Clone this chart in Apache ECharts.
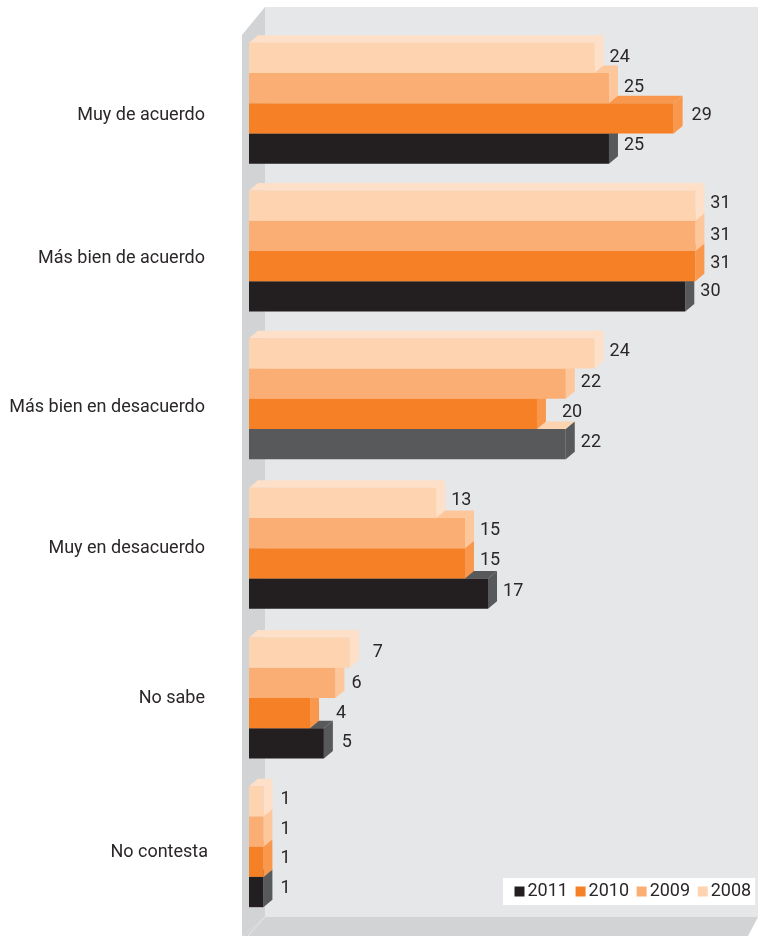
<!DOCTYPE html>
<html>
<head>
<meta charset="utf-8">
<style>html,body{margin:0;padding:0;background:#fff}#c{width:758px;height:936px}</style>
<script src="https://cdn.jsdelivr.net/npm/echarts@6/dist/echarts.min.js"></script>
</head>
<body>
<div id="c"></div>
<script>
const categories = ['Muy de acuerdo','Más bien de acuerdo','Más bien en desacuerdo','Muy en desacuerdo','No sabe','No contesta'];
const years = ['2011','2010','2009','2008'];
const v2011 = [25, 30.3, 22, 16.6, 5.2, 1];
const v2010 = [29.49, 31, 20, 15, 4.24, 1];
const v2009 = [25, 31, 22, 15, 6, 1];
const v2008 = [24, 31, 24, 13, 7, 1];
const frontColors = ['#231f20','#f58025','#fbae73','#fdd3b0'];
const faceColors = ['#58595b','#f9984c','#fdc69b','#fedfc7'];
const labelNudge = [12.5, 6.5, 7, -1, 0, 5.5];
const groupNudge = [0, -1, -2, -1, 0, 0];
const valueLabelTweak = {
  '3-0': [0, 3], '2-0': [0, 3], '1-0': [3, 1],
  '0-1': [0, -2], '2-1': [0, 2],
  '1-2': [10, 0],
  '3-4': [8, 3], '2-4': [1, 4], '1-4': [11, 4], '0-4': [3, 3],
  '3-5': [2, 2], '2-5': [2, 1], '1-5': [2, 0], '0-5': [2, 0]
};
const FONT = 'Roboto';

const all = [v2011, v2010, v2009, v2008];
const rich = {};
labelNudge.forEach((n, i) => {
  rich['s' + i] = {
    fontSize: 18, color: '#2b2728', fontFamily: FONT,
    padding: [n >= 0 ? 2 * n : 0, i === 5 ? 0 : 3, n < 0 ? -2 * n : 0, 0]
  };
});

function makeSeries(si) {
  return {
    name: years[si],
    type: 'custom',
    coordinateSystem: 'cartesian2d',
    clip: false,
    itemStyle: { color: frontColors[si] },
    encode: { x: 0, y: 1 },
    data: all[si].map((v, i) => [v, i]),
    renderItem(params, api) {
      const val = api.value(0), cat = api.value(1);
      const p0 = api.coord([0, cat]);
      const p1 = api.coord([val, cat]);
      const band = api.size([0, 1])[1];
      const h = band * 0.2035;
      const x0 = p0[0], x1 = p1[0];
      const base = p0[1] + (1 - si) * h;
      const top = base + groupNudge[cat];
      const bot = top + h;
      const dx = 9, dy = 7.5;
      // 2011 in the third group is printed grey, with a pale top face
      const oddBar = si === 0 && cat === 2;
      const front = oddBar ? faceColors[0] : frontColors[si];
      const face = faceColors[si];
      const topFace = oddBar ? '#fdd3b0' : face;
      const tweak = valueLabelTweak[si + '-' + cat] || [0, 0];
      return {
        type: 'group',
        children: [
          { type: 'polygon', shape: { points: [[x0, top], [x1, top], [x1 + dx, top - dy], [x0 + dx, top - dy]] }, style: { fill: topFace } },
          { type: 'polygon', shape: { points: [[x1, top], [x1 + dx, top - dy], [x1 + dx, bot - dy], [x1, bot]] }, style: { fill: face } },
          { type: 'rect', shape: { x: x0, y: top, width: x1 - x0, height: h }, style: { fill: front } },
          { type: 'text', style: { text: String(Math.round(val)), x: x1 + 15 + tweak[0], y: base + h / 2 - 3.5 + tweak[1], fill: '#2b2728', font: '18px ' + FONT, textAlign: 'left', verticalAlign: 'middle' } }
        ]
      };
    }
  };
}

const chart = echarts.init(document.getElementById('c'), null, { renderer: 'canvas' });
chart.setOption({
  animation: false,
  backgroundColor: '#ffffff',
  graphic: [
    { type: 'rect', z: 0, shape: { x: 265, y: 7, width: 493, height: 910 }, style: { fill: '#e6e7e8' } },
    { type: 'polygon', z: 0, shape: { points: [[242, 35], [265, 7], [265, 917], [242, 936]] }, style: { fill: '#d1d3d4' } },
    { type: 'polygon', z: 0, shape: { points: [[265, 917], [758, 917], [748, 936], [242, 936]] }, style: { fill: '#d1d3d4' } },
    { type: 'line', z: 0, shape: { x1: 265, y1: 917, x2: 248, y2: 936 }, style: { stroke: '#e6e7e8', lineWidth: 1 } }
  ],
  legend: {
    data: years,
    left: 503,
    top: 878,
    padding: [4.5, 4, 4.5, 11.5],
    itemGap: 7.6,
    itemWidth: 10,
    itemHeight: 10,
    icon: 'rect',
    backgroundColor: '#ffffff',
    selectedMode: false,
    textStyle: { fontSize: 18, color: '#2b2728', fontFamily: FONT, padding: [0, 0, 0, -2] }
  },
  grid: { left: 249, top: 29, width: 509, height: 892 },
  xAxis: { type: 'value', min: 0, max: 35.35, show: false },
  yAxis: {
    type: 'category',
    inverse: true,
    data: categories,
    axisLine: { show: false },
    axisTick: { show: false },
    axisLabel: {
      margin: 41,
      formatter: (val, i) => '{s' + i + '|' + val + '}',
      rich
    }
  },
  series: [0, 1, 2, 3].map(makeSeries)
});
</script>
</body>
</html>
